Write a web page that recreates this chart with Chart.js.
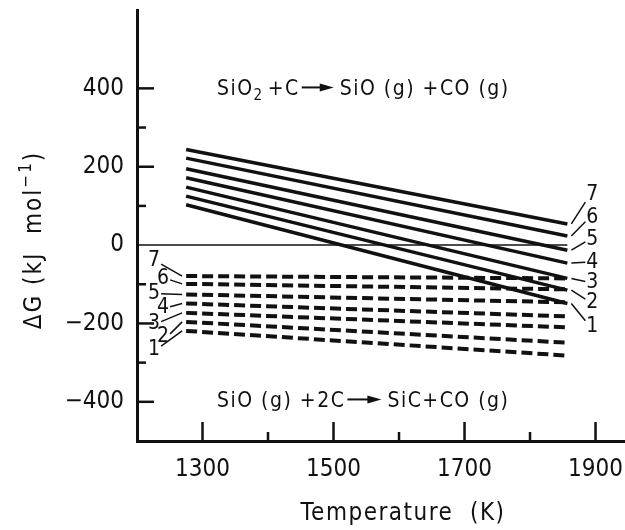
<!DOCTYPE html>
<html>
<head>
<meta charset="utf-8">
<script src="https://cdn.jsdelivr.net/npm/chart.js@4"></script>
<style>
  html, body { margin: 0; padding: 0; background: #fff; }
  #wrap { width: 625px; height: 530px; }
</style>
</head>
<body>
<div id="wrap"><canvas id="dgChart" width="625" height="530"></canvas></div>
<script>
// Temperature span of every curve (K)
const tempSpan = [1275, 1857];
// Curve numbers 1..7 (bottom to top)
const curveNames = ['1', '2', '3', '4', '5', '6', '7'];
// SiO2 + C -> SiO(g) + CO(g), dG at start / end of span (kJ/mol)
const solidStart = [103, 125, 148, 172, 195, 222, 244];
const solidEnd = [-149, -115, -85, -46, -13, 23, 54];
// SiO(g) + 2C -> SiC + CO(g)
const dashStart = [-219, -196, -173, -149, -126, -99, -79];
const dashEnd = [-282, -249, -210, -182, -146, -113, -85];
// axis ticks
const xTickLabels = [1300, 1500, 1700, 1900];
const xMinorTicks = [1400, 1600, 1800];
const yTickLabels = [400, 200, 0, -200, -400];
const yMinorTicks = [300, 100, -100, -300];

const INK = '#111';
const FONT = "'DejaVu Sans Condensed', 'Liberation Sans Narrow', 'DejaVu Sans', sans-serif";

const line = (y0, y1, dashed) => ({
  data: [{ x: tempSpan[0], y: y0 }, { x: tempSpan[1], y: y1 }],
  showLine: true,
  borderColor: INK,
  borderWidth: dashed ? 4 : 3.5,
  borderDash: dashed ? [11, 5] : [],
  borderCapStyle: 'butt',
  pointRadius: 0,
});

const datasets = [];
curveNames.forEach((_, i) => {
  datasets.push(line(solidStart[i], solidEnd[i], false));
  datasets.push(line(dashStart[i], dashEnd[i], true));
});
// zero reference line
datasets.push({
  data: [{ x: 1200, y: 0 }, { x: tempSpan[1], y: 0 }],
  showLine: true, borderColor: INK, borderWidth: 1.5, pointRadius: 0,
});

// draw text pieces one after another: {t}, {sub}, {sup}, {arrow}
function drawRich(ctx, x, y, parts, size) {
  parts.forEach((p) => {
    if (p.arrow) {
      const mid = y - size * 0.36;
      ctx.lineWidth = 2;
      ctx.beginPath(); ctx.moveTo(x + 2, mid); ctx.lineTo(x + p.arrow - 10, mid); ctx.stroke();
      ctx.beginPath();
      ctx.moveTo(x + p.arrow - 2, mid);
      ctx.lineTo(x + p.arrow - 16, mid - 4);
      ctx.lineTo(x + p.arrow - 16, mid + 4);
      ctx.closePath(); ctx.fill();
      x += p.arrow + 4;
      return;
    }
    const small = p.sub || p.sup;
    const txt = p.t || p.sub || p.sup;
    ctx.font = `${small ? Math.round(size * 0.72) : size}px ${FONT}`;
    const dy = p.sub ? size * 0.25 : p.sup ? -size * 0.42 : 0;
    ctx.fillText(txt, x, y + dy);
    x += ctx.measureText(txt).width + (p.gap || 0);
  });
  return x;
}

function richWidth(ctx, parts, size) {
  let w = 0;
  parts.forEach((p) => {
    if (p.arrow) { w += p.arrow + 4; return; }
    const small = p.sub || p.sup;
    ctx.font = `${small ? Math.round(size * 0.72) : size}px ${FONT}`;
    w += ctx.measureText(p.t || p.sub || p.sup).width + (p.gap || 0);
  });
  return w;
}

const annotations = {
  id: 'annotations',
  afterDraw(chart) {
    const { ctx, chartArea: area, scales: { x, y } } = chart;
    ctx.save();
    ctx.strokeStyle = INK;
    ctx.fillStyle = INK;
    ctx.lineCap = 'butt';
    ctx.setLineDash([]);

    // inward tick marks
    ctx.lineWidth = 2.5;
    const tick = (x0, y0, x1, y1) => { ctx.beginPath(); ctx.moveTo(x0, y0); ctx.lineTo(x1, y1); ctx.stroke(); };
    xTickLabels.forEach((v) => { const px = x.getPixelForValue(v); tick(px, area.bottom, px, area.bottom - 19); });
    xMinorTicks.forEach((v) => { const px = x.getPixelForValue(v); tick(px, area.bottom, px, area.bottom - 9); });
    yTickLabels.filter((v) => v !== 0).forEach((v) => { const py = y.getPixelForValue(v); tick(area.left, py, area.left + 17, py); });
    yMinorTicks.forEach((v) => { const py = y.getPixelForValue(v); tick(area.left, py, area.left + 9, py); });

    // curve numbers with leader lines
    ctx.font = `21px ${FONT}`;
    ctx.textAlign = 'center';
    ctx.textBaseline = 'middle';
    ctx.lineWidth = 1.5;
    const xe = x.getPixelForValue(tempSpan[1]);
    const xs = x.getPixelForValue(tempSpan[0]);
    const rightDy = [23, 12, 4, -1, -11, -19, -29];
    const leftDy = [19, 15, 11, 4, -1, -5, -15];
    curveNames.forEach((name, i) => {
      // right side: solid curves
      const ye = y.getPixelForValue(solidEnd[i]);
      const lx = xe + 25, ly = ye + rightDy[i];
      ctx.fillText(name, lx, ly);
      tick(xe + 4, ye, lx - 7, ly + 0.25 * (ye - ly));
      // left side: dashed curves
      const ys = y.getPixelForValue(dashStart[i]);
      const kx = xs + (i % 2 === 0 ? -32 : -23), ky = ys + leftDy[i];
      ctx.fillText(name, kx, ky);
      tick(kx + 7, ky + 0.2 * (ys - ky), xs - 4, ys);
    });

    // reaction equations
    ctx.textAlign = 'left';
    ctx.textBaseline = 'alphabetic';
    ctx.letterSpacing = '1.5px';
    const eqSize = 21;
    drawRich(ctx, area.left + 80, area.top + 85, [
      { t: 'SiO' }, { sub: '2', gap: 4 }, { t: '+C' }, { arrow: 36 }, { t: 'SiO (g) +CO (g)' },
    ], eqSize);
    drawRich(ctx, area.left + 80, area.top + 397, [
      { t: 'SiO (g) +2C' }, { arrow: 38 }, { t: 'SiC+CO (g)' },
    ], eqSize);

    // axis titles
    ctx.font = `24px ${FONT}`;
    ctx.letterSpacing = '1.5px';
    ctx.textAlign = 'center';
    ctx.fillText('Temperature  (K)', 403, 520);

    ctx.translate(41, 240);
    ctx.rotate(-Math.PI / 2);
    ctx.textAlign = 'left';
    ctx.letterSpacing = '2px';
    const yParts = [{ t: 'ΔG (kJ  mol' }, { sup: '−1' }, { t: ')' }];
    drawRich(ctx, -richWidth(ctx, yParts, 24) / 2, 0, yParts, 24);
    ctx.restore();
  },
};

// keep the plot frame where the original sits: no extra label padding
const noPad = (s) => { s.paddingLeft = s.paddingRight = s.paddingTop = s.paddingBottom = 0; };

new Chart(document.getElementById('dgChart'), {
  type: 'scatter',
  data: { datasets },
  options: {
    responsive: false,
    animation: false,
    layout: { padding: { top: 10, left: 0, right: 0, bottom: 0 } },
    plugins: { legend: { display: false }, tooltip: { enabled: false } },
    scales: {
      x: {
        type: 'linear', min: 1200, max: 1945,
        afterFit: (s) => { s.height = 89; noPad(s); },
        afterBuildTicks: (s) => { s.ticks = xTickLabels.map((v) => ({ value: v })); },
        grid: { display: false, drawTicks: false },
        border: { display: true, width: 3, color: INK },
        ticks: { padding: 14, color: INK, font: { family: FONT, size: 24 }, maxRotation: 0, callback: (v) => String(v) },
      },
      y: {
        type: 'linear', min: -500, max: 600,
        afterFit: (s) => { s.width = 137; noPad(s); },
        afterBuildTicks: (s) => { s.ticks = yTickLabels.map((v) => ({ value: v })); },
        grid: { display: false, drawTicks: false },
        border: { display: true, width: 3, color: INK },
        ticks: { padding: 13, color: INK, font: { family: FONT, size: 24 }, callback: (v) => (v < 0 ? '\u2212' + Math.abs(v) : String(v)) },
      },
    },
  },
  plugins: [annotations],
});
</script>
</body>
</html>
